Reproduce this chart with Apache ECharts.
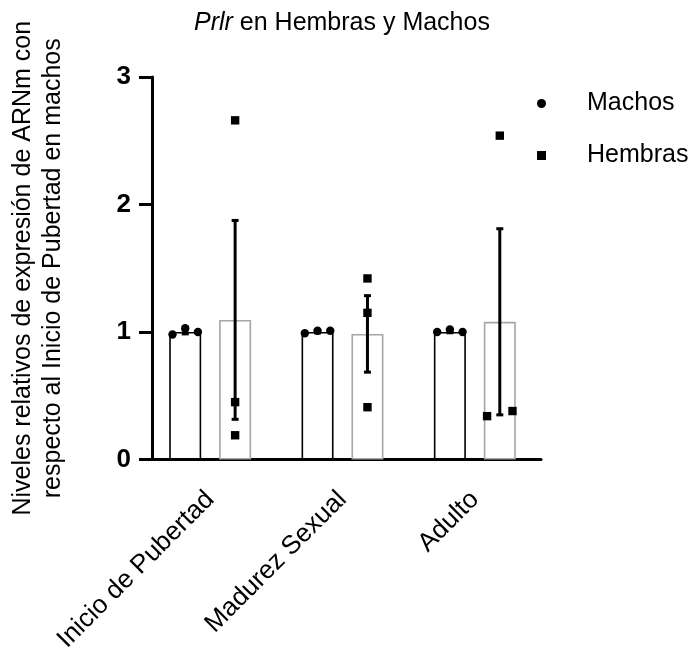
<!DOCTYPE html>
<html><head><meta charset="utf-8">
<script src="https://cdn.jsdelivr.net/npm/echarts@6/dist/echarts.min.js"></script>
<style>html,body{margin:0;padding:0;background:#fff}#c{width:691px;height:655px}</style>
</head><body><div id="c"></div>
<script>
// ---- data ----
const categories = ['Inicio de Pubertad', 'Madurez Sexual', 'Adulto'];
const machosMean = [1.00, 1.00, 1.00];
const machosSEM = [0.015, 0.007, 0.006];
const hembrasMean = [1.095, 0.985, 1.08];
const hembrasSEM = [0.78, 0.30, 0.73];
const machosPoints = [[0.98, 1.03, 1.00], [0.99, 1.01, 1.01], [1.00, 1.02, 1.00]];
const hembrasPoints = [[2.66, 0.45, 0.19], [1.42, 1.15, 0.41], [2.54, 0.34, 0.38]];
const yTicks = [0, 1, 2, 3];
const titleRest = ' en Hembras y Machos';
const titleGene = 'Prlr';
const yName = 'Niveles relativos de expresión de ARNm con\nrespecto al Inicio de Pubertad en machos';

// ---- layout / style constants ----
const FONT = 'Liberation Sans, Arial, sans-serif';
const BAR_W = 32;
const BAR_GAP = 0.56;           // fraction of bar width
const SIDE_OFF = BAR_W / 2 + BAR_W * BAR_GAP / 2;
const JITTER = 12.7;
const CLUSTER_TOL = 0.07;
const CAP = 3.5;

function jitterFor(vals) {
  const idx = vals.map((v, i) => i).sort((a, b) => vals[a] - vals[b]);
  const clusters = []; let cur = [idx[0]];
  for (let k = 1; k < idx.length; k++) {
    if (vals[idx[k]] - vals[cur[cur.length - 1]] < CLUSTER_TOL) cur.push(idx[k]);
    else { clusters.push(cur); cur = [idx[k]]; }
  }
  clusters.push(cur);
  const out = vals.map(() => 0);
  clusters.forEach(cl => {
    cl.sort((a, b) => a - b);
    const pat = cl.length === 1 ? [0] : cl.length === 2 ? [-1, 1] : cl.map((_, i) => i - (cl.length - 1) / 2);
    cl.forEach((p, i) => { out[p] = pat[i]; });
  });
  return out;
}

function pointData(groups) {
  const d = [];
  groups.forEach((vals, ci) => {
    const j = jitterFor(vals);
    vals.forEach((v, i) => d.push([ci, v, j[i]]));
  });
  return d;
}

function errRender(sign) {
  return function (params, api) {
    const ci = api.value(0), m = api.value(1), s = api.value(2);
    const c = api.coord([ci, m]);
    const x = c[0] + sign * SIDE_OFF;
    const top = api.coord([ci, m + s])[1];
    const bot = api.coord([ci, m - s])[1];
    const st = { stroke: '#000', lineWidth: 3 };
    return { type: 'group', children: [
      { type: 'line', shape: { x1: x, y1: top, x2: x, y2: bot }, style: st },
      { type: 'line', shape: { x1: x - CAP, y1: top, x2: x + CAP, y2: top }, style: st },
      { type: 'line', shape: { x1: x - CAP, y1: bot, x2: x + CAP, y2: bot }, style: st }
    ]};
  };
}

function ptRender(sign, shape) {
  return function (params, api) {
    const ci = api.value(0), v = api.value(1), j = api.value(2);
    const c = api.coord([ci, v]);
    const x = c[0] + sign * SIDE_OFF + j * JITTER;
    const y = c[1];
    if (shape === 'circle') return { type: 'circle', shape: { cx: x, cy: y, r: 4.2 }, style: { fill: '#000' } };
    return { type: 'rect', shape: { x: x - 4.2, y: y - 4.2, width: 8.4, height: 8.4 }, style: { fill: '#000' } };
  };
}

const chart = echarts.init(document.getElementById('c'), null, { renderer: 'canvas' });
chart.setOption({
  animation: false,
  backgroundColor: '#fff',
  title: {
    text: '{i|' + titleGene + '}' + titleRest,
    left: 189, top: 6,
    textStyle: { fontSize: 25, fontWeight: 'normal', color: '#000', fontFamily: FONT,
      rich: { i: { fontStyle: 'italic', fontSize: 25, color: '#000', fontFamily: FONT } } }
  },
  legend: {
    orient: 'vertical', left: 532, top: 86,
    itemWidth: 9, itemHeight: 9, itemGap: 27,
    textStyle: { fontSize: 25, color: '#000', fontFamily: FONT, padding: [0, 0, 0, 36] },
    selectedMode: false,
    data: [
      { name: 'Machos', icon: 'circle', itemStyle: { color: '#000', borderWidth: 0 } },
      { name: 'Hembras', icon: 'rect', itemStyle: { color: '#000', borderWidth: 0 } }
    ]
  },
  grid: { left: 142, width: 399, top: 77, height: 385 },
  xAxis: {
    type: 'category', data: categories,
    axisLine: { lineStyle: { color: '#000', width: 3 } },
    axisTick: { alignWithLabel: true, length: 14, lineStyle: { color: '#000', width: 3 } },
    axisLabel: { rotate: 45, fontSize: 26, color: '#000', fontFamily: FONT, margin: 36, interval: 0 },
    splitLine: { show: false }
  },
  yAxis: {
    type: 'value', min: yTicks[0], max: yTicks[yTicks.length - 1], interval: 1, offset: -8,
    axisLine: { show: true, lineStyle: { color: '#000', width: 3 } },
    axisTick: { show: true, length: 13, lineStyle: { color: '#000', width: 3 } },
    axisLabel: { fontSize: 26, fontWeight: 'bold', color: '#000', fontFamily: FONT, margin: 21 },
    splitLine: { show: false },
    name: yName, nameLocation: 'middle', nameRotate: 90, nameGap: 84,
    nameTextStyle: { fontSize: 25, color: '#000', fontFamily: FONT, lineHeight: 30 }
  },
  series: [
    { name: 'Machos', type: 'bar', data: machosMean, barWidth: BAR_W, barGap: (BAR_GAP * 100) + '%',
      itemStyle: { color: '#fff', borderColor: '#000', borderWidth: 1.6 }, z: 1 },
    { name: 'Hembras', type: 'bar', data: hembrasMean, barWidth: BAR_W,
      itemStyle: { color: '#fff', borderColor: '#a6a6a6', borderWidth: 1.6 }, z: 1 },
    { name: 'Machos', type: 'custom', renderItem: errRender(-1),
      data: machosMean.map((m, i) => [i, m, machosSEM[i]]), z: 3 },
    { name: 'Hembras', type: 'custom', renderItem: errRender(1),
      data: hembrasMean.map((m, i) => [i, m, hembrasSEM[i]]), z: 3 },
    { name: 'Machos', type: 'custom', renderItem: ptRender(-1, 'circle'), data: pointData(machosPoints), z: 4 },
    { name: 'Hembras', type: 'custom', renderItem: ptRender(1, 'rect'), data: pointData(hembrasPoints), z: 4 }
  ]
});
</script>
</body></html>
